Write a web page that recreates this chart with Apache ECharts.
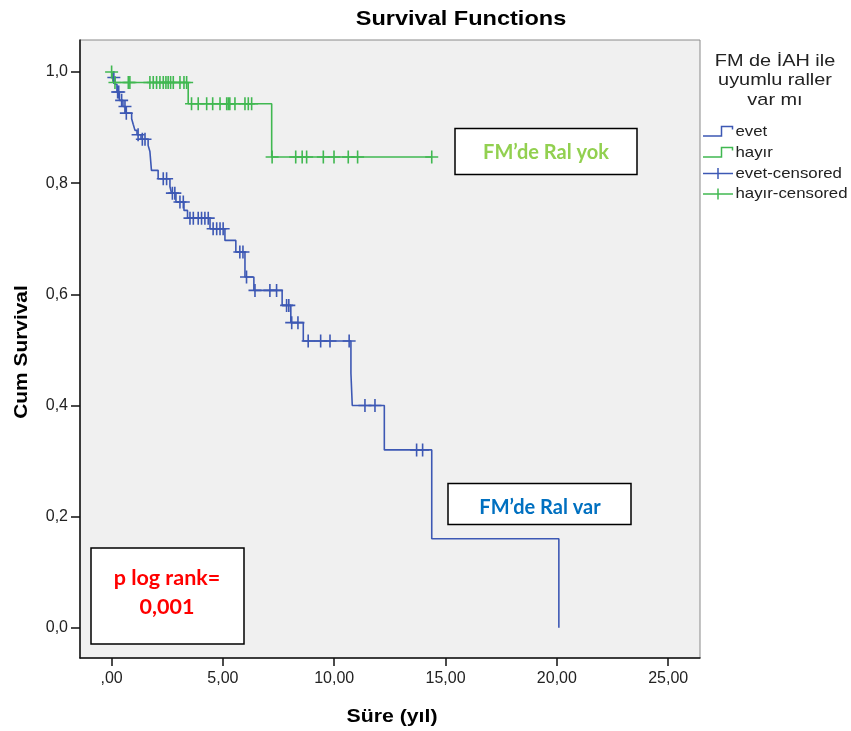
<!DOCTYPE html>
<html><head><meta charset="utf-8">
<script src="https://cdn.jsdelivr.net/npm/echarts@6/dist/echarts.min.js"></script>
<style>html,body{margin:0;padding:0;background:#fff}#c{width:851px;height:731px}</style>
</head><body><div id="c"></div>
<script>
// ---- data ----
const xTickValues = [0, 5, 10, 15, 20, 25];
const yTickValues = [0, 0.2, 0.4, 0.6, 0.8, 1.0];

const eventTimesEvet = [0.06,0.15,0.24,0.35,0.51,0.62,0.90,0.97,1.05,1.14,1.32,1.64,1.72,1.79,2.09,2.62,2.69,2.89,3.25,3.41,4.42,5.09,5.58,5.99,6.39,7.66,8.05,8.61,10.75,10.81,12.25,14.38,20.09];
const survEvet = [0.990,0.978,0.964,0.949,0.938,0.926,0.916,0.906,0.895,0.887,0.879,0.868,0.857,0.823,0.808,0.794,0.782,0.766,0.751,0.737,0.718,0.697,0.676,0.631,0.607,0.580,0.549,0.516,0.458,0.400,0.320,0.160,0.000];
const censorTimesEvet = [0.10,0.27,0.32,0.45,0.60,0.66,1.19,1.38,1.50,2.32,2.47,2.73,2.84,3.07,3.22,3.52,3.67,3.89,4.04,4.19,4.34,4.56,4.72,4.87,5.01,5.76,5.90,6.06,6.44,7.11,7.41,7.86,7.96,8.09,8.37,8.83,9.39,9.81,10.67,11.38,11.83,13.70,13.97];
const censorSurvEvet = [0.990,0.964,0.964,0.949,0.938,0.926,0.887,0.879,0.879,0.808,0.808,0.782,0.782,0.766,0.766,0.737,0.737,0.737,0.737,0.737,0.737,0.718,0.718,0.718,0.718,0.676,0.676,0.631,0.607,0.607,0.607,0.580,0.580,0.549,0.549,0.516,0.516,0.516,0.516,0.400,0.400,0.320,0.320];

const eventTimesHayir = [0.07, 3.44, 7.19];
const survHayir = [0.981, 0.943, 0.847];
const censorTimesHayir = [0.00,0.15,0.75,0.82,1.72,1.87,2.02,2.17,2.32,2.44,2.54,2.65,2.77,3.07,3.25,3.37,3.59,3.89,4.27,4.54,4.87,5.17,5.24,5.31,5.54,5.99,6.14,6.29,7.21,8.27,8.56,8.76,9.51,9.99,10.63,11.05,14.38];
const censorSurvHayir = [1.000,0.981,0.981,0.981,0.981,0.981,0.981,0.981,0.981,0.981,0.981,0.981,0.981,0.981,0.981,0.981,0.943,0.943,0.943,0.943,0.943,0.943,0.943,0.943,0.943,0.943,0.943,0.943,0.847,0.847,0.847,0.847,0.847,0.847,0.847,0.847,0.847];

const groupNames = ['evet', 'hayır'];
const legendNames = ['evet', 'hayır', 'evet-censored', 'hayır-censored'];
const legendTitle = ['FM de İAH ile', 'uyumlu raller', 'var mı'];
const chartTitle = 'Survival Functions';
const xName = 'Süre (yıl)';
const yName = 'Cum Survival';
const noteYok = 'FM’de Ral yok';
const noteVar = 'FM’de Ral var';
const notePLines = ['p log rank=', '0,001'];

// ---- build ----
const BLUE = '#3d58b4';
const GREEN = '#40b851';
const FONT = '"Liberation Sans", Arial, sans-serif';

function kmPath(times, surv, censorTimes) {
  const pts = [[0, 1]];
  for (let i = 0; i < times.length; i++) pts.push([times[i], surv[i]]);
  const lastT = Math.max(...censorTimes);
  const last = pts[pts.length - 1];
  if (lastT > last[0]) pts.push([lastT, last[1]]);
  return pts;
}
function zip(a, b) { return a.map((v, i) => [v, b[i]]); }

const crossSymbol = 'path://M6,0 L6,12 M0,6 L12,6';

const chart = echarts.init(document.getElementById('c'), null, {renderer: 'canvas'});

function txt(x, y, text, font, fill, opts, align) {
  const a = align || 'center';
  return Object.assign({
    type: 'text', x: x, y: y, silent: true, z: 100,
    style: {text: text, font: font, fill: fill,
      align: a, textAlign: a, verticalAlign: 'middle', textVerticalAlign: 'middle'}
  }, opts || {});
}

const graphics = [];
// title
graphics.push(txt(461, 19, chartTitle, 'bold 21px ' + FONT, '#000', {scaleX: 1.12}));
// axis names
graphics.push(txt(392, 717, xName, 'bold 19px ' + FONT, '#000', {scaleX: 1.12}));
graphics.push(txt(22, 352, yName, 'bold 19px ' + FONT, '#000', {rotation: Math.PI / 2, scaleX: 1.1}));
// legend title
legendTitle.forEach((t, i) => graphics.push(txt(775, 61 + i * 19.5, t, '17px ' + FONT, '#222', {scaleX: 1.17})));
// legend items
const legendColors = [BLUE, GREEN, BLUE, GREEN];
const legendY = [131.5, 152.5, 173.5, 194];
legendNames.forEach((n, i) => {
  const y = legendY[i];
  const c = legendColors[i];
  if (i < 2) {
    graphics.push({type: 'polyline', silent: true, z: 100,
      shape: {points: [[703, y + 4.5], [721.5, y + 4.5], [721.5, y - 5], [732.5, y - 5], [732.5, y - 2]]},
      style: {stroke: c, lineWidth: 1.5, fill: null}});
  } else {
    graphics.push({type: 'line', silent: true, z: 100, shape: {x1: 703, y1: y, x2: 733, y2: y}, style: {stroke: c, lineWidth: 1.5}});
    graphics.push({type: 'line', silent: true, z: 100, shape: {x1: 718, y1: y - 5.5, x2: 718, y2: y + 5.5}, style: {stroke: c, lineWidth: 1.5}});
  }
  graphics.push(txt(735.5, y, n, '15px ' + FONT, '#222', {scaleX: 1.12}, 'left'));
});
// annotation boxes
function box(x, y, w, h) {
  return {type: 'rect', silent: true, z: 90, shape: {x: x, y: y, width: w, height: h},
    style: {fill: '#fff', stroke: '#000', lineWidth: 1.5}};
}
const NFONT = 'bold 20px Lato, "Open Sans", sans-serif';
const PFONT = 'bold 21.5px Lato, "Open Sans", sans-serif';
graphics.push(box(455, 128.5, 182, 46));
graphics.push(txt(546, 153, noteYok, NFONT, '#92d050'));
graphics.push(box(448, 483.5, 183, 41));
graphics.push(txt(540, 507.5, noteVar, NFONT, '#0070c0'));
graphics.push(box(91, 548, 153, 96));
graphics.push(txt(167, 578, notePLines[0], PFONT, '#ff0000'));
graphics.push(txt(167, 607, notePLines[1], PFONT, '#ff0000'));

const option = {
  animation: false,
  backgroundColor: '#ffffff',
  grid: {left: 80, top: 40, right: 151, bottom: 73, show: true,
    backgroundColor: '#f0f0f0', borderColor: '#8a8a8a', borderWidth: 1},
  xAxis: {
    type: 'value', min: -1.42, max: 26.43,
    axisLine: {onZero: false, lineStyle: {color: '#111', width: 1.5}},
    axisTick: {show: true, customValues: xTickValues, length: 8, lineStyle: {color: '#111', width: 1.5}},
    axisLabel: {customValues: xTickValues, margin: 13, fontSize: 16, color: '#222', fontFamily: FONT,
      formatter: v => v === 0 ? ',00' : v.toFixed(2).replace('.', ',')},
    splitLine: {show: false}
  },
  yAxis: {
    type: 'value', min: -0.0545, max: 1.0576,
    axisLine: {show: true, onZero: false, lineStyle: {color: '#111', width: 1.5}},
    axisTick: {show: true, customValues: yTickValues, length: 9, lineStyle: {color: '#111', width: 1.5}},
    axisLabel: {customValues: yTickValues, margin: 12, fontSize: 16, color: '#222', fontFamily: FONT,
      formatter: v => v.toFixed(1).replace('.', ',')},
    splitLine: {show: false}
  },
  series: [
    {name: groupNames[0], type: 'line', step: 'end', showSymbol: false, symbol: 'none',
      data: kmPath(eventTimesEvet, survEvet, censorTimesEvet),
      lineStyle: {color: BLUE, width: 1.6}, z: 3},
    {name: groupNames[1], type: 'line', step: 'end', showSymbol: false, symbol: 'none',
      data: kmPath(eventTimesHayir, survHayir, censorTimesHayir),
      lineStyle: {color: GREEN, width: 1.6}, z: 3},
    {name: legendNames[2], type: 'scatter', symbol: crossSymbol, symbolSize: [13, 13],
      data: zip(censorTimesEvet, censorSurvEvet),
      itemStyle: {color: BLUE, borderColor: BLUE, borderWidth: 1.6, opacity: 1}, z: 4},
    {name: legendNames[3], type: 'scatter', symbol: crossSymbol, symbolSize: [13, 13],
      data: zip(censorTimesHayir, censorSurvHayir),
      itemStyle: {color: GREEN, borderColor: GREEN, borderWidth: 1.6, opacity: 1}, z: 4}
  ],
  graphic: graphics
};
chart.setOption(option);
</script>
</body></html>
